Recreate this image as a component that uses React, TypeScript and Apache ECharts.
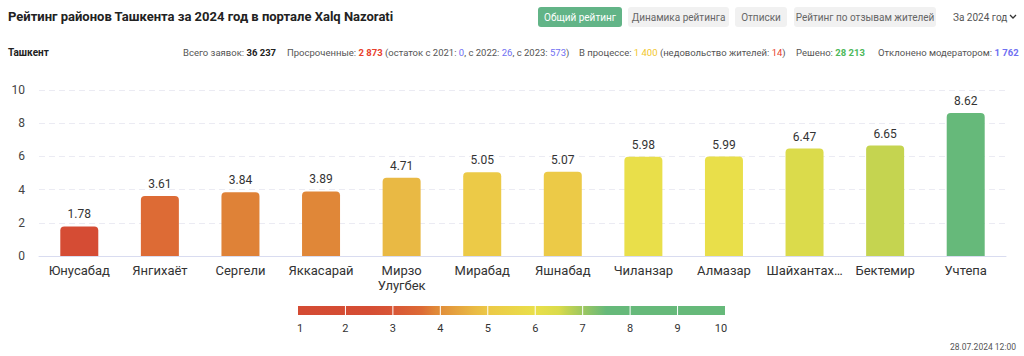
import React, { useEffect, useRef } from "react";
import * as echarts from "echarts";

const districts = ["Юнусабад", "Янгихаёт", "Сергели", "Яккасарай", "Мирзо Улугбек", "Мирабад", "Яшнабад", "Чиланзар", "Алмазар", "Шайхантахур", "Бектемир", "Учтепа"];
const ratings = [1.78, 3.61, 3.84, 3.89, 4.71, 5.05, 5.07, 5.98, 5.99, 6.47, 6.65, 8.62];
const scaleTicks = [1, 2, 3, 4, 5, 6, 7, 8, 9, 10];
const buttons = ["Общий рейтинг", "Динамика рейтинга", "Отписки", "Рейтинг по отзывам жителей"];
const totalRequests = "36 237";
const overdue = "2 873";
const overdue2021 = "0";
const overdue2022 = "26";
const overdue2023 = "573";
const inProgress = "1 400";
const dissatisfied = "14";
const solved = "28 213";
const rejected = "1 762";

const colorStops: [number, string][] = [
  [1, "#d44b33"], [2.5, "#d54d34"], [3, "#d85636"], [3.6, "#dd6a35"], [3.9, "#e08838"],
  [4.7, "#e9b944"], [5.05, "#ecca47"], [6, "#e9df4a"], [6.5, "#dadb4b"], [6.65, "#c5d450"],
  [7, "#9dc760"], [7.5, "#66b97a"], [10, "#66b97a"],
];

function hex(c: string) {
  return [1, 3, 5].map((i) => parseInt(c.slice(i, i + 2), 16));
}
function colorFor(v: number) {
  if (v <= colorStops[0][0]) return colorStops[0][1];
  for (let i = 1; i < colorStops.length; i++) {
    const [v1, c1] = colorStops[i];
    const [v0, c0] = colorStops[i - 1];
    if (v <= v1) {
      const t = (v - v0) / (v1 - v0);
      const a = hex(c0), b = hex(c1);
      const m = a.map((x, k) => Math.round(x + (b[k] - x) * t));
      return "rgb(" + m.join(",") + ")";
    }
  }
  return colorStops[colorStops.length - 1][1];
}

const FONT = "Roboto";

export default function App() {
  const ref = useRef<HTMLDivElement>(null);
  useEffect(() => {
    const chart = echarts.init(ref.current!, null, { renderer: "svg" });

    const graphics: any[] = [];
    graphics.push({
      type: "text", left: 8, top: 10,
      style: { text: "Рейтинг районов Ташкента за 2024 год в портале Xalq Nazorati", font: "bold 13px " + FONT, fill: "#222" },
    });
    const btnX = [538, 628, 735, 794];
    const btnW = [84, 101, 52, 142];
    buttons.forEach((b, i) => {
      const active = i === 0;
      graphics.push({
        type: "rect", shape: { x: btnX[i], y: 7, width: btnW[i], height: 20, r: 3 },
        style: { fill: active ? "#62b487" : "#f1f1f1" },
      });
      graphics.push({
        type: "text", x: btnX[i] + btnW[i] / 2, y: 17,
        style: { text: b, font: "10px " + FONT, fill: active ? "#fff" : "#666", align: "center", verticalAlign: "middle" },
      });
    });
    graphics.push({
      type: "text", x: 953, y: 17,
      style: { text: "За 2024 год", font: "10px " + FONT, fill: "#555", verticalAlign: "middle" },
    });
    graphics.push({
      type: "polyline", shape: { points: [[1010, 15], [1013, 18], [1016, 15]] },
      style: { stroke: "#333", lineWidth: 1.3, fill: null },
    });
    graphics.push({
      type: "text", x: 8, y: 52,
      style: { text: "Ташкент", font: "bold 10px " + FONT, fill: "#222", verticalAlign: "middle" },
    });
    const base = { fontSize: 9.5, fontFamily: FONT };
    const rich = {
      n: { ...base, fill: "#555" },
      b: { ...base, fill: "#222", fontWeight: "bold" },
      r: { ...base, fill: "#e8402c", fontWeight: "bold" },
      bl: { ...base, fill: "#6f6ff2" },
      blb: { ...base, fill: "#6f6ff2", fontWeight: "bold" },
      y: { ...base, fill: "#f1c62a" },
      rr: { ...base, fill: "#e8402c" },
      g: { ...base, fill: "#4cb85a", fontWeight: "bold" },
    };
    const stats: [number, string][] = [
      [183, "{n|Всего заявок: }{b|" + totalRequests + "}"],
      [287, "{n|Просроченные: }{r|" + overdue + "}{n| (остаток с 2021: }{bl|" + overdue2021 + "}{n|, с 2022: }{bl|" + overdue2022 + "}{n|, с 2023: }{bl|" + overdue2023 + "}{n|)}"],
      [579, "{n|В процессе: }{y|" + inProgress + "}{n| (недовольство жителей: }{rr|" + dissatisfied + "}{n|)}"],
      [796, "{n|Решено: }{g|" + solved + "}"],
      [878, "{n|Отклонено модератором: }{blb|" + rejected + "}"],
    ];
    stats.forEach(([x, t]) => {
      graphics.push({ type: "text", x, y: 52, style: { text: t, rich, fill: "#555", verticalAlign: "middle" } });
    });

    // color scale legend
    const lx = 298, lw = 427, ly = 306, lh = 9;
    const gStops = colorStops.map(([v, c]) => ({ offset: (v - 1) / 9, color: c }));
    graphics.push({
      type: "rect", shape: { x: lx, y: ly, width: lw, height: lh },
      style: { fill: new echarts.graphic.LinearGradient(0, 0, 1, 0, gStops) },
    });
    scaleTicks.forEach((t, i) => {
      const x = lx + (lw * (t - 1)) / 9;
      if (i > 0 && i < scaleTicks.length - 1) {
        graphics.push({ type: "line", shape: { x1: x, y1: ly, x2: x, y2: ly + lh }, style: { stroke: "#fff", lineWidth: 1 } });
      }
      graphics.push({
        type: "text", x: i === 0 ? x + 2 : i === scaleTicks.length - 1 ? x - 4 : x, y: 328,
        style: { text: String(t), font: "11px " + FONT, fill: "#333", align: "center", verticalAlign: "middle" },
      });
    });
    graphics.push({
      type: "text", x: 1016, y: 347,
      style: { text: "28.07.2024 12:00", font: "8.5px " + FONT, fill: "#555", align: "right", verticalAlign: "middle" },
    });

    chart.setOption({
      animation: false,
      textStyle: { fontFamily: FONT },
      grid: { left: 39, right: 18, top: 90, bottom: 100 },
      xAxis: {
        type: "category",
        data: districts,
        axisLine: { lineStyle: { color: "#d9dcf0" } },
        axisTick: { show: false },
        axisLabel: {
          color: "#333", fontSize: 13, margin: 7, interval: 0, lineHeight: 15,
          formatter: (v: string) => {
            const s = v.replace(" ", "\n");
            return s.length > 10 && s.indexOf("\n") < 0 ? s.slice(0, 9) + "…" : s;
          },
        },
      },
      yAxis: {
        type: "value", min: 0, max: 10, interval: 2,
        axisLabel: { color: "#444", fontSize: 12, margin: 14 },
        splitLine: { lineStyle: { color: "#ebebf3", type: [6, 4] } },
      },
      series: [{
        type: "bar",
        barWidth: 38,
        data: ratings.map((v) => ({ value: v, itemStyle: { color: colorFor(v), borderRadius: [4, 4, 0, 0] } })),
        label: { show: true, position: "top", distance: 6, color: "#333", fontSize: 12 },
      }],
      graphic: graphics,
    });
    return () => chart.dispose();
  }, []);
  return <div ref={ref} style={{ position: "absolute", left: 0, top: 0, width: 1024, height: 356 }} />;
}
